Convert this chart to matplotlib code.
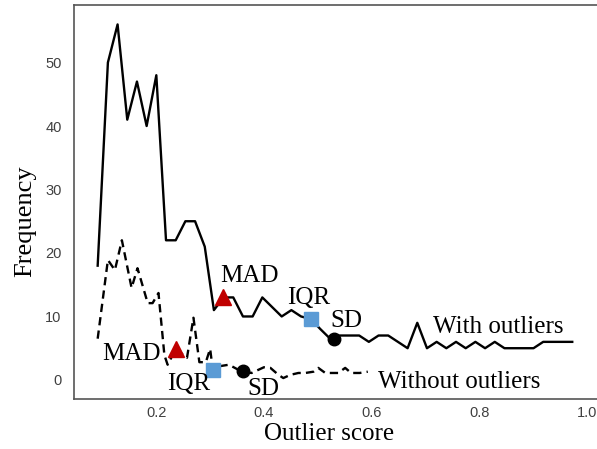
import matplotlib
matplotlib.use("Agg")
import matplotlib.pyplot as plt

# ---- data ----
with_x = [0.091, 0.110, 0.128, 0.146, 0.164, 0.182, 0.200, 0.218, 0.236, 0.254,
          0.272, 0.290, 0.307, 0.325, 0.343, 0.361, 0.379, 0.397, 0.415, 0.433,
          0.451, 0.469, 0.487, 0.505, 0.523, 0.541, 0.559, 0.577, 0.595, 0.613,
          0.631, 0.649, 0.667, 0.685, 0.703, 0.721, 0.739, 0.757, 0.775, 0.793,
          0.811, 0.829, 0.847, 0.865, 0.883, 0.901, 0.919, 0.937, 0.955, 0.973]
with_y = [18, 50, 56, 41, 47, 40, 48, 22, 22, 25,
          25, 21, 11, 13, 13, 10, 10, 13, 11.5, 10,
          11, 10, 9.6, 8, 6.5, 7, 7, 7, 6, 7,
          7, 6, 5, 9, 5, 6, 5, 6, 5, 6,
          5, 6, 5, 5, 5, 5, 6, 6, 6, 6]

without_x = [0.091, 0.110, 0.123, 0.136, 0.154, 0.165, 0.184, 0.193, 0.204, 0.215,
             0.221, 0.237, 0.250, 0.257, 0.269, 0.280, 0.292, 0.300, 0.305, 0.320,
             0.335, 0.359, 0.377, 0.400, 0.412, 0.427, 0.436, 0.449, 0.464, 0.477,
             0.492, 0.501, 0.514, 0.538, 0.551, 0.562, 0.578, 0.593]
without_y = [6.5, 18.9, 17.3, 22.0, 14.5, 17.6, 12.1, 12.1, 13.7, 3.9,
             2.4, 5.0, 3.9, 3.5, 9.8, 2.8, 2.8, 4.9, 1.6, 2.2,
             2.4, 1.3, 1.1, 2.0, 1.9, 0.8, 0.3, 0.8, 1.1, 1.1,
             1.3, 1.9, 1.1, 1.1, 1.9, 1.1, 1.1, 1.3]

methods = ["MAD", "IQR", "SD"]
with_thr_x = [0.324, 0.488, 0.530]
with_thr_y = [13.0, 9.6, 6.5]
without_thr_x = [0.237, 0.305, 0.361]
without_thr_y = [4.9, 1.6, 1.4]

x_ticks = [0.2, 0.4, 0.6, 0.8, 1.0]
y_ticks = [0, 10, 20, 30, 40, 50]

# ---- figure ----
fig = plt.figure(figsize=(5.97, 4.49), dpi=100)
ax = fig.add_axes([74 / 597, 50 / 449, 1 - 74 / 597, 394 / 449])

ax.plot(with_x, with_y, color="black", lw=1.7, zorder=2)
ax.plot(without_x, without_y, color="black", lw=1.7, ls=(0, (3.5, 2.2)), zorder=2)

styles = [dict(marker="^", color="#c00000", ms=11),
          dict(marker="s", color="#5b9bd5", ms=9.5),
          dict(marker="o", color="black", ms=9)]
for i, st in enumerate(styles):
    ax.plot([with_thr_x[i]], [with_thr_y[i]], ls="none", marker=st["marker"],
            color=st["color"], ms=st["ms"], zorder=3)
    ax.plot([without_thr_x[i]], [without_thr_y[i]], ls="none", marker=st["marker"],
            color=st["color"], ms=st["ms"], zorder=3)

serif = "Liberation Serif"
fs = 18
with_lbl_pos = [(0.3736, 16.4), (0.4825, 12.9), (0.5526, 9.3)]
without_lbl_pos = [(0.154, 4.1), (0.2592, -0.6), (0.3994, -1.4)]
for i, m in enumerate(methods):
    ax.text(*with_lbl_pos[i], m, family=serif, fontsize=fs, ha="center", va="center")
    ax.text(*without_lbl_pos[i], m, family=serif, fontsize=fs, ha="center", va="center")
ax.text(0.835, 8.4, "With outliers", family=serif, fontsize=fs, ha="center", va="center")
ax.text(0.7629, -0.3, "Without outliers", family=serif, fontsize=fs, ha="center", va="center")

ax.set_xlim(0.047, 1.019)
ax.set_ylim(-3.0, 59.06)
ax.set_xticks(x_ticks)
ax.set_xticklabels([f"{v:.1f}" for v in x_ticks])
ax.set_yticks(y_ticks)
ax.tick_params(length=0, labelsize=10.5, labelcolor="#404040")
ax.tick_params(axis="y", pad=9)
ax.tick_params(axis="x", pad=5)
for lab in ax.get_xticklabels() + ax.get_yticklabels():
    lab.set_family("Liberation Sans")

ax.set_xlabel("Outlier score", family=serif, fontsize=18)
ax.set_ylabel("Frequency", family=serif, fontsize=19)
ax.xaxis.set_label_coords(0.4876, -0.062)
ax.yaxis.set_label_coords(-0.072, 0.452)

for side in ["left", "bottom", "top"]:
    ax.spines[side].set_color("#555555")
    ax.spines[side].set_linewidth(1.2)
ax.spines["right"].set_visible(False)

fig.savefig("out.png", dpi=100, facecolor="white")
